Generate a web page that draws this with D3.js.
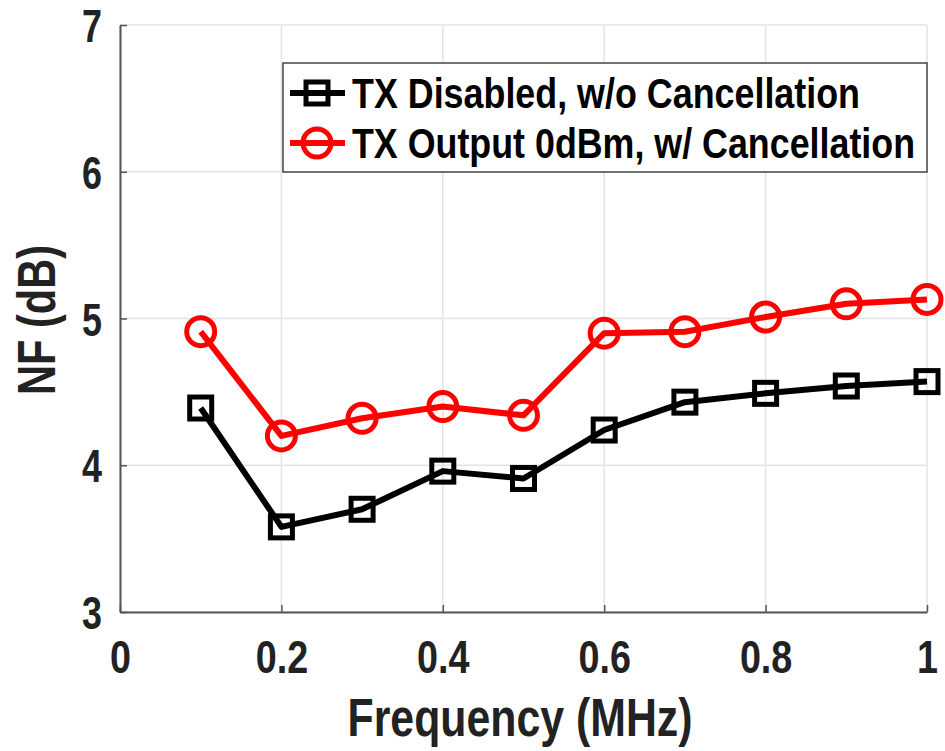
<!DOCTYPE html>
<html>
<head>
<meta charset="utf-8">
<script src="https://cdn.jsdelivr.net/npm/d3@7"></script>
<style>
  body { margin: 0; background: #fff; }
  text { font-family: "Liberation Sans", Arial, sans-serif; font-weight: bold; }
</style>
</head>
<body>
<svg id="chart" width="945" height="751"></svg>
<script>
(function(){
    "use strict";

    var freq = [0.1, 0.2, 0.3, 0.4, 0.5, 0.6, 0.7, 0.8, 0.9, 1.0];
    var nfDisabled = [4.39, 3.58, 3.70, 3.96, 3.91, 4.24, 4.43, 4.49, 4.54, 4.57];
    var nfCancel = [4.91, 4.20, 4.32, 4.40, 4.34, 4.90, 4.91, 5.01, 5.10, 5.13];
    var xTicks = [0, 0.2, 0.4, 0.6, 0.8, 1];
    var yTicks = [3, 4, 5, 6, 7];
    var seriesNames = ["TX Disabled, w/o Cancellation", "TX Output 0dBm, w/ Cancellation"];

    var left = 120, right = 927, top = 25, bottom = 612;
    var svg = d3.select("#chart");

    var x = d3.scaleLinear().domain([0, 1]).range([left, right]);
    var y = d3.scaleLinear().domain([3, 7]).range([bottom, top]);

    // squeeze text to look like the narrow font of the original
    function condense(sel, k){
        sel.each(function(){
            var w = this.getComputedTextLength();
            d3.select(this).attr("textLength", w * k).attr("lengthAdjust", "spacingAndGlyphs");
        });
    }

    // grid
    var grid = svg.append("g");
    grid.selectAll("line.gx").data(xTicks).enter().append("line")
        .attr("x1", function(d){ return x(d); }).attr("x2", function(d){ return x(d); })
        .attr("y1", top).attr("y2", bottom)
        .attr("stroke", "#e3e3e3").attr("stroke-width", 1.5);
    grid.selectAll("line.gy").data(yTicks).enter().append("line")
        .attr("x1", left).attr("x2", right)
        .attr("y1", function(d){ return y(d); }).attr("y2", function(d){ return y(d); })
        .attr("stroke", "#e3e3e3").attr("stroke-width", 1.5);

    // axes
    var xAxis = svg.append("g").attr("transform", "translate(0," + bottom + ")")
        .call(d3.axisBottom(x).tickValues(xTicks).tickSizeInner(-7).tickSizeOuter(0)
            .tickFormat(function(d){ return d === 0 || d === 1 ? String(d) : d3.format(".1f")(d); }));
    var yAxis = svg.append("g").attr("transform", "translate(" + left + ",0)")
        .call(d3.axisLeft(y).tickValues(yTicks).tickSizeInner(-7).tickSizeOuter(0)
            .tickFormat(d3.format("d")));

    [xAxis, yAxis].forEach(function(a){
        a.select(".domain").attr("stroke", "#555").attr("stroke-width", 2);
        a.selectAll(".tick line").attr("stroke", "#555").attr("stroke-width", 1.5);
        a.selectAll(".tick text").attr("font-size", 46).attr("fill", "#222")
            .style("font-family", "\"Liberation Sans\", Arial, sans-serif");
    });
    xAxis.selectAll(".tick text").attr("y", 28).attr("dy", "0.71em");
    yAxis.selectAll(".tick text").attr("x", -18).attr("dy", "0.36em");
    condense(xAxis.selectAll(".tick text"), 0.82);
    condense(yAxis.selectAll(".tick text"), 0.78);

    // axis titles
    svg.append("text").attr("x", 520).attr("y", 736)
        .attr("text-anchor", "middle").attr("font-size", 53).attr("fill", "#222")
        .attr("textLength", 345).attr("lengthAdjust", "spacingAndGlyphs")
        .text("Frequency (MHz)");
    svg.append("text").attr("transform", "translate(55,320) rotate(-90)")
        .attr("text-anchor", "middle").attr("font-size", 54).attr("fill", "#222")
        .attr("textLength", 150).attr("lengthAdjust", "spacingAndGlyphs")
        .text("NF (dB)");

    var line = d3.line()
        .x(function(d){ return x(d[0]); })
        .y(function(d){ return y(d[1]); });

    function drawSeries(vals, color, shape){
        var pts = d3.zip(freq, vals);
        svg.append("path").datum(pts)
            .attr("d", line).attr("fill", "none")
            .attr("stroke", color).attr("stroke-width", 6)
            .attr("stroke-linejoin", "round");
        pts.forEach(function(p){
            drawMarker(svg, x(p[0]), y(p[1]), color, shape);
        });
    }

    function drawMarker(g, cx, cy, color, shape){
        if(shape === "square"){
            g.append("rect").attr("x", cx - 11).attr("y", cy - 11)
                .attr("width", 22).attr("height", 22)
                .attr("fill", "none").attr("stroke", color).attr("stroke-width", 5);
        } else {
            g.append("circle").attr("cx", cx).attr("cy", cy).attr("r", 14)
                .attr("fill", "none").attr("stroke", color).attr("stroke-width", 5);
        }
    }

    drawSeries(nfDisabled, "#000", "square");
    drawSeries(nfCancel, "#ff0000", "circle");

    // legend
    var legend = svg.append("g");
    legend.append("rect").attr("x", 283).attr("y", 63).attr("width", 644).attr("height", 109)
        .attr("fill", "#fff").attr("stroke", "#444").attr("stroke-width", 1.5);
    var colors = ["#000", "#ff0000"], shapes = ["square", "circle"];
    var legendLen = [508, 563];
    seriesNames.forEach(function(name, i){
        var ly = 93 + i * 50;
        legend.append("line").attr("x1", 290).attr("x2", 345).attr("y1", ly).attr("y2", ly)
            .attr("stroke", colors[i]).attr("stroke-width", 6);
        drawMarker(legend, 317, ly, colors[i], shapes[i]);
        legend.append("text").attr("x", 352).attr("y", ly).attr("dy", "0.36em")
            .attr("font-size", 42).attr("fill", "#000")
            .attr("textLength", legendLen[i]).attr("lengthAdjust", "spacingAndGlyphs")
            .text(name);
    });
}());
</script>
</body>
</html>
